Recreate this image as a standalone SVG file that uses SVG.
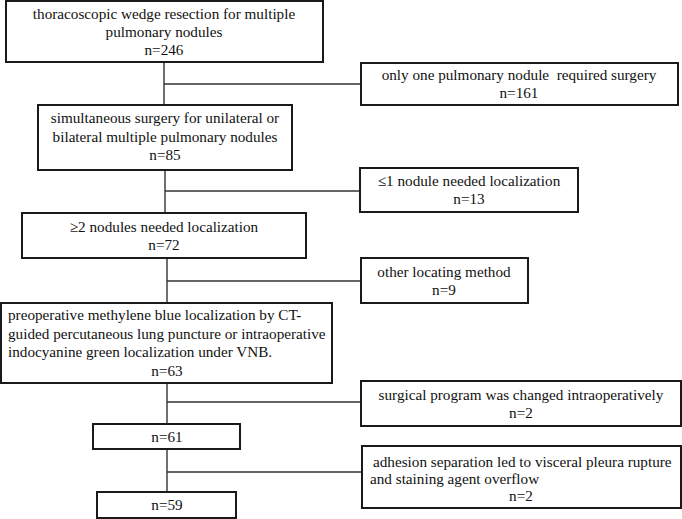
<svg xmlns="http://www.w3.org/2000/svg" width="682" height="519" viewBox="0 0 682 519">
<style>
rect{fill:#fff;stroke:#1a1a1a;stroke-width:2}
text{font-size:15.2px;fill:#111}
.c{text-anchor:middle}
.conn line{stroke:#333;stroke-width:1.4}
</style>
<rect x="0" y="0" width="682" height="519" style="stroke:none"/>
<g class="conn">
<line x1="164" y1="62" x2="164" y2="105"/>
<line x1="164" y1="84" x2="361" y2="84"/>
<line x1="165" y1="170" x2="165" y2="213"/>
<line x1="165" y1="191" x2="360" y2="191"/>
<line x1="167" y1="258" x2="167" y2="303"/>
<line x1="167" y1="281" x2="361" y2="281"/>
<line x1="167" y1="383" x2="167" y2="424"/>
<line x1="167" y1="402" x2="361" y2="402"/>
<line x1="167" y1="449" x2="167" y2="492"/>
<line x1="167" y1="472" x2="362" y2="472"/>
</g>
<g font-family="Liberation Serif, Times New Roman, serif">
<g id="n1">
<rect x="6" y="1" width="317" height="61"/>
<text class="c" x="164" y="19">thoracoscopic wedge resection for multiple</text>
<text class="c" x="164" y="37">pulmonary nodules</text>
<text class="c" x="164" y="55">n=246</text>
</g>
<g id="e1">
<rect x="361" y="63" width="317" height="42"/>
<text class="c" x="519" y="80" xml:space="preserve">only one pulmonary nodule  required surgery</text>
<text class="c" x="519" y="98">n=161</text>
</g>
<g id="n2">
<rect x="38" y="105" width="254" height="65"/>
<text class="c" x="165" y="123">simultaneous surgery for unilateral or</text>
<text class="c" x="165" y="142">bilateral multiple pulmonary nodules</text>
<text class="c" x="165" y="160">n=85</text>
</g>
<g id="e2">
<rect x="360" y="168" width="218" height="44"/>
<text class="c" x="469" y="186">≤1 nodule needed localization</text>
<text class="c" x="469" y="204">n=13</text>
</g>
<g id="n3">
<rect x="22" y="213" width="284" height="45"/>
<text class="c" x="164" y="232">≥2 nodules needed localization</text>
<text class="c" x="164" y="250">n=72</text>
</g>
<g id="e3">
<rect x="361" y="258" width="167" height="45"/>
<text class="c" x="444" y="277">other locating method</text>
<text class="c" x="444" y="295">n=9</text>
</g>
<g id="n4">
<rect x="1" y="303" width="331" height="80"/>
<text x="8" y="320">preoperative methylene blue localization by CT-</text>
<text x="8" y="339">guided percutaneous lung puncture or intraoperative</text>
<text x="8" y="357">indocyanine green localization under VNB.</text>
<text class="c" x="167" y="376">n=63</text>
</g>
<g id="e4">
<rect x="361" y="381" width="320" height="45"/>
<text class="c" x="521" y="400">surgical program was changed intraoperatively</text>
<text class="c" x="521" y="418">n=2</text>
</g>
<g id="n5">
<rect x="93" y="424" width="147" height="25"/>
<text class="c" x="167" y="442">n=61</text>
</g>
<g id="e5">
<rect x="362" y="446" width="319" height="62"/>
<text x="373" y="467">adhesion separation led to visceral pleura rupture</text>
<text x="370" y="484">and staining agent overflow</text>
<text class="c" x="521" y="501">n=2</text>
</g>
<g id="n6">
<rect x="97" y="492" width="139" height="26"/>
<text class="c" x="167" y="510">n=59</text>
</g>
</g>
</svg>
